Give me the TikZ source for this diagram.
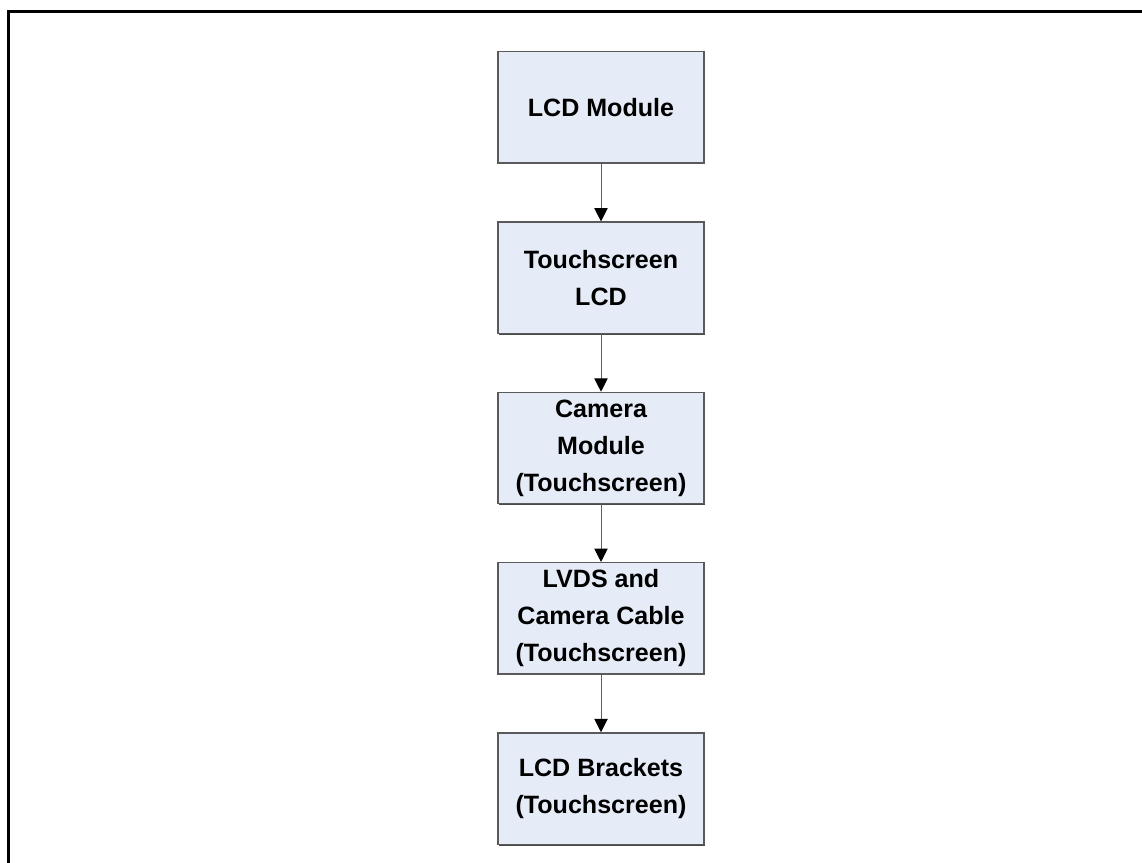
\documentclass[tikz,border=0pt]{standalone}
\usepackage{fontspec}
\setmainfont{Liberation Sans}
\usepackage{tikz}
\usetikzlibrary{arrows.meta,positioning,shadows}
\definecolor{boxfill}{HTML}{E6ECF7}
\definecolor{boxline}{HTML}{5A5A5A}
\definecolor{arrline}{HTML}{5F5F5F}

\tikzset{
  unitbox/.style={draw=boxline, line width=1pt, fill=boxfill,
    minimum width=154.5pt, minimum height=83.5pt, inner sep=2pt,
    align=center, font=\bfseries\fontsize{18.8}{27.7}\selectfont,
    drop shadow={shadow xshift=1pt, shadow yshift=-1pt,
      fill=boxline!80!black, opacity=1}},
  flowarrow/.style={draw=arrline, line width=0.75pt,
    -{Triangle[width=10pt,length=10pt,color=black]}}
}

\begin{document}
\begin{tikzpicture}[x=0.75pt,y=-0.75pt, node distance=43.2pt]
  \useasboundingbox (0,0) rectangle (1142,863);
  % Frame
  \draw[line width=2.25pt] (8.5,863) -- (8.5,11.5) -- (1142,11.5);
  % Boxes
  \node[unitbox] (lcd) at (601,107.5) {LCD Module};
  \node[unitbox, below=of lcd] (touch) {Touchscreen\\LCD};
  \node[unitbox, below=of touch] (camera) {Camera\\Module\\(Touchscreen)};
  \node[unitbox, below=of camera] (lvds) {LVDS and\\Camera Cable\\(Touchscreen)};
  \node[unitbox, below=of lvds] (brackets) {LCD Brackets\\(Touchscreen)};
  % Arrows
  \draw[flowarrow] (lcd) -- (touch);
  \draw[flowarrow] (touch) -- (camera);
  \draw[flowarrow] (camera) -- (lvds);
  \draw[flowarrow] (lvds) -- (brackets);
\end{tikzpicture}
\end{document}
